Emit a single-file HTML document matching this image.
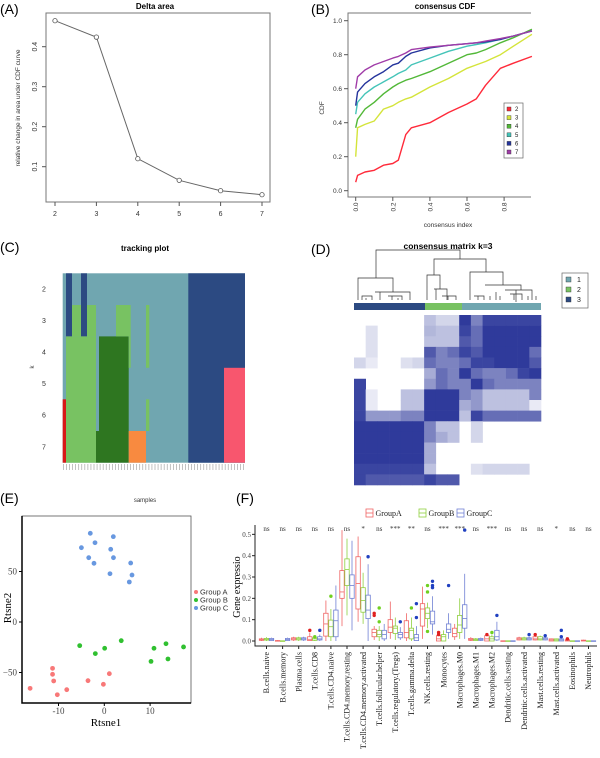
<!DOCTYPE html>
<html><head><meta charset="utf-8"><style>
html,body{margin:0;padding:0;background:#fff;}
svg{display:block;font-family:"Liberation Sans",sans-serif;}
.serif{font-family:"Liberation Serif",serif;}
</style></head><body>
<svg id="fig" width="600" height="758" viewBox="0 0 600 758" xmlns="http://www.w3.org/2000/svg">
<text x="0" y="14" font-size="14">(A)</text>
<text x="311" y="14" font-size="14">(B)</text>
<text x="0" y="252" font-size="14">(C)</text>
<text x="311" y="254" font-size="14">(D)</text>
<text x="0" y="503" font-size="14">(E)</text>
<text x="236" y="503" font-size="14">(F)</text>
<g id="gA"></g>
<g id="gB"></g>
<g id="gC"></g>
<g id="gD"></g>
<g id="gE"></g>
<g id="gF"></g>
</svg>
<script>
// ---------- data ----------
const deltaK = [2,3,4,5,6,7];
const deltaVals = [0.465,0.424,0.12,0.066,0.04,0.03];
const deltaYTicks = [0.1,0.2,0.3,0.4];

const cdfX = [0,0.01,0.05,0.1,0.15,0.2,0.23,0.27,0.3,0.4,0.5,0.6,0.65,0.7,0.78,0.85,0.95];
const cdfK2 = [0.05,0.09,0.11,0.12,0.15,0.16,0.18,0.33,0.37,0.40,0.46,0.51,0.54,0.62,0.72,0.75,0.79];
const cdfK3 = [0.2,0.37,0.39,0.41,0.48,0.50,0.52,0.54,0.55,0.61,0.66,0.72,0.74,0.76,0.80,0.85,0.92];
const cdfK4 = [0.37,0.42,0.48,0.52,0.57,0.61,0.63,0.65,0.66,0.70,0.75,0.80,0.81,0.83,0.87,0.90,0.95];
const cdfK5 = [0.45,0.52,0.57,0.61,0.64,0.67,0.69,0.71,0.74,0.78,0.82,0.85,0.86,0.87,0.89,0.91,0.94];
const cdfK6 = [0.50,0.58,0.63,0.67,0.70,0.74,0.75,0.79,0.81,0.84,0.855,0.865,0.87,0.875,0.89,0.91,0.94];
const cdfK7 = [0.60,0.67,0.71,0.74,0.76,0.78,0.79,0.81,0.83,0.845,0.855,0.865,0.87,0.88,0.895,0.91,0.94];
const cdfLabels = ['2','3','4','5','6','7'];
const cdfXTicks = [0,0.2,0.4,0.6,0.8];
const cdfYTicks = [0,0.2,0.4,0.6,0.8,1.0];

const trackRows = ['2','3','4','5','6','7'];

const cmCols = 16;
const cmRow0 = [0,0,0,0,0,0,.3,.2,.2,.95,.6,.9,.9,.9,.9,.9];
const cmRow1 = [0,.15,0,0,0,0,.35,.3,.3,.9,.7,.95,.95,.95,.95,.95];
const cmRow2 = [0,.15,0,0,0,0,.3,.3,.3,.8,.7,.95,.95,.95,.95,.95];
const cmRow3 = [0,.15,0,0,0,0,.8,.6,.7,.9,.8,.95,.95,.95,.95,.7];
const cmRow4 = [.2,.1,0,0,.15,.2,.7,.6,.6,.7,.9,.9,.95,.95,.95,.8];
const cmRow5 = [0,0,0,0,0,0,.4,.7,.6,.95,.7,.6,.6,.7,.9,.95];
const cmRow6 = [.9,0,0,0,0,0,.5,.7,.6,.6,.95,.7,.6,.6,.6,.6];
const cmRow7 = [.9,.1,0,0,.3,.3,.95,.95,.95,.6,.5,.3,.3,.3,.3,.6];
const cmRow8 = [.9,.1,0,0,.3,.3,.95,.95,.95,.4,.5,.3,.3,.3,.3,.1];
const cmRow9 = [.9,.5,.5,.5,.6,.6,.95,.95,.95,.3,.9,.7,.7,.7,.7,.7];
const cmRow10 = [.95,.95,.95,.95,.95,.95,.6,.3,.3,0,.2,0,0,0,0,0];
const cmRow11 = [.95,.95,.95,.95,.95,.95,.6,.4,.3,0,.2,0,0,0,0,0];
const cmRow12 = [.95,.95,.95,.95,.95,.95,.4,0,0,0,0,0,0,0,0,0];
const cmRow13 = [.95,.95,.95,.95,.95,.95,.4,0,0,0,0,0,0,0,0,0];
const cmRow14 = [.9,.9,.9,.9,.9,.9,.3,0,0,0,.15,.2,.2,.2,.2,0];
const cmRow15 = [.9,.8,.8,.8,.8,.8,.9,.8,.8,0,0,0,0,0,0,0];
const cmLegend = ['1','2','3'];

const tsneAx = [-11.3,-11.3,-11.05,-16.2,-10.26,-8.2,-3.56,-0.2,1.1];
const tsneAy = [-45.9,-51.8,-58.4,-65.7,-72,-67,-58.1,-61.7,-51.2];
const tsneBx = [-5.37,-1.96,0.08,3.7,10.85,13.47,17.3,10.2,13.9];
const tsneBy = [-23.4,-31.3,-26,-18.5,-26,-21.5,-24.7,-39,-36.6];
const tsneCx = [-3.06,1.97,-2.03,-5.0,1.4,-3.4,2.0,-2.25,5.76,1.24,6.05,5.46];
const tsneCy = [87.8,84.5,78.5,73.6,72,63.7,63.7,58.1,58.4,47.8,46.5,39.6];
const tsneXTicks = [-10,0,10];
const tsneYTicks = [-50,0,50];
const tsneGroups = ['Group A','Group B','Group C'];

const cells = ['B.cells.naive','B.cells.memory','Plasma.cells','T.cells.CD8','T.cells.CD4.naive','T.cells.CD4.memory.resting','T.cells.CD4.memory.activated','T.cells.follicular.helper','T.cells.regulatory.(Tregs)','T.cells.gamma.delta','NK.cells.resting','Monocytes','Macrophages.M0','Macrophages.M1','Macrophages.M2','Dendritic.cells.resting','Dendritic.cells.activated','Mast.cells.resting','Mast.cells.activated','Eosinophils','Neutrophils'];
const signif = ['ns','ns','ns','ns','ns','ns','*','ns','***','**','ns','***','***','ns','***','ns','ns','ns','*','ns','ns'];
const loA  = [0,0,0,0,0,.07,.09,.005,.01,0,.01,0,.005,0,0,0,.003,.003,0,0,0];
const q1A  = [.003,0,.005,.002,.023,.2,.15,.02,.04,.015,.07,0,.02,.003,0,0,.005,.005,0,0,0];
const medA = [.007,.001,.01,.008,.08,.23,.27,.04,.065,.04,.15,.01,.035,.007,.01,0,.01,.01,.005,.003,.002];
const q3A  = [.01,.002,.015,.02,.13,.33,.395,.055,.1,.095,.175,.025,.06,.012,.025,.001,.015,.02,.01,.006,.004];
const hiA  = [.015,.004,.02,.04,.19,.52,.49,.07,.185,.13,.255,.03,.08,.018,.03,.002,.02,.03,.012,.01,.006];
const loB  = [0,0,0,0,0,.12,.08,0,.005,0,.06,0,.01,0,0,0,.003,.003,0,0,0];
const q1B  = [.004,0,.005,.003,.02,.26,.135,.02,.035,.01,.105,0,.04,.002,0,0,.005,.005,0,0,0];
const medB = [.008,0,.01,.01,.067,.335,.19,.03,.06,.05,.13,.02,.075,.006,.01,0,.01,.01,.005,0,0];
const q3B  = [.012,.001,.015,.015,.098,.385,.25,.05,.07,.06,.155,.03,.12,.01,.02,.001,.015,.02,.01,.001,.001];
const hiB  = [.018,.002,.02,.02,.15,.48,.32,.07,.11,.11,.18,.05,.2,.014,.03,.002,.02,.025,.012,.002,.002];
const loC  = [0,0,0,0,0,.05,0,0,.005,0,.03,.01,.01,0,0,0,.003,.003,0,0,0];
const q1C  = [.002,.002,.005,.005,.02,.2,.105,.01,.015,.002,.08,.04,.06,.003,.005,0,.005,.005,0,0,0];
const medC = [.007,.007,.01,.01,.095,.26,.145,.03,.03,.015,.09,.055,.105,.007,.02,0,.01,.01,.005,0,0];
const q3C  = [.012,.012,.015,.02,.145,.31,.215,.05,.04,.03,.14,.08,.17,.012,.05,.001,.015,.015,.01,.001,.001];
const hiC  = [.016,.016,.02,.03,.26,.47,.36,.08,.065,.07,.21,.13,.315,.016,.09,.002,.02,.02,.012,.002,.002];
const outCat = [3,7,7,11,11,14,17,19,3,4,7,7,9,10,10,10,14,3,6,8,9,9,10,10,10,11,12,14,16,17,18,18];
const outGrp = [0,0,0,0,0,0,0,0,1,1,1,1,1,1,1,1,1,2,2,2,2,2,2,2,2,2,2,2,2,2,2,2];
const outVal = [.05,.12,.13,.03,.04,.03,.03,.01,.02,.21,.09,.155,.155,.045,.23,.26,.04,.05,.395,.09,.11,.175,.25,.26,.28,.26,.52,.12,.03,.025,.02,.05];
const fYTicks = [0,0.1,0.2,0.3,0.4,0.5];
const fGroups = ['GroupA','GroupB','GroupC'];

// ---------- helpers ----------
const NS='http://www.w3.org/2000/svg';
function mk(parent, tag, attrs, txt){const e=document.createElementNS(NS,tag);for(const k in attrs)e.setAttribute(k,attrs[k]);if(txt!==undefined)e.textContent=txt;parent.appendChild(e);return e;}

// ---------- Panel A ----------
(function(){
const g=document.getElementById('gA');
const xA=k=>55+(k-2)*41.4, yA=v=>166.7-(v-0.1)*400;
let e=mk(g,'rect',{x:46,y:13,width:224,height:189,fill:'none',stroke:'#777','stroke-width':1});


e=mk(g,'text',{x:155,y:9,'font-size':8,'font-weight':'bold','text-anchor':'middle'},'Delta area');


deltaK.forEach(k=>{mk(g,'line',{x1:xA(k),x2:xA(k),y1:202,y2:206,stroke:'#555'});
 e=mk(g,'text',{x:xA(k),y:216,'font-size':7,'text-anchor':'middle',fill:'#333'},k);
 
 });
deltaYTicks.forEach(v=>{mk(g,'line',{x1:42,x2:46,y1:yA(v),y2:yA(v),stroke:'#555'});
 e=mk(g,'text',{x:0,y:0,'font-size':7,'text-anchor':'middle',fill:'#333',transform:`translate(37,${yA(v)}) rotate(-90)`},v.toFixed(1));
 
 });
e=mk(g,'text',{x:0,y:0,'font-size':6.5,'text-anchor':'middle',fill:'#333',transform:'translate(20,108) rotate(-90)'},'relative change in area under CDF curve');


e=mk(g,'polyline',{points:deltaK.map((k,i)=>xA(k)+','+yA(deltaVals[i])).join(' '),fill:'none',stroke:'#666','stroke-width':1});


deltaK.forEach((k,i)=>{e=mk(g,'circle',{cx:xA(k),cy:yA(deltaVals[i]),r:2.2,fill:'#fff',stroke:'#555','stroke-width':0.8});
 
 });
})();

// ---------- Panel B ----------
(function(){
const g=document.getElementById('gB');
const xB=v=>355.7+v*185.5, yB=v=>190.7-v*170;
let e=mk(g,'path',{d:'M531,13 H348 V197 H531',fill:'none',stroke:'#777','stroke-width':1});


e=mk(g,'text',{x:445,y:9,'font-size':8,'font-weight':'bold','text-anchor':'middle'},'consensus CDF');


cdfXTicks.forEach(v=>{mk(g,'line',{x1:xB(v),x2:xB(v),y1:197,y2:201,stroke:'#555'});
 e=mk(g,'text',{x:0,y:0,'font-size':6.5,'text-anchor':'middle',fill:'#333',transform:`translate(${xB(v)+2.5},207) rotate(-90)`},v.toFixed(1));
 
 });
cdfYTicks.forEach(v=>{mk(g,'line',{x1:344,x2:348,y1:yB(v),y2:yB(v),stroke:'#555'});
 e=mk(g,'text',{x:342,y:yB(v)+2.5,'font-size':6.5,'text-anchor':'end',fill:'#333'},v.toFixed(1));
 
 });
e=mk(g,'text',{x:448,y:227,'font-size':6.5,'text-anchor':'middle',fill:'#333'},'consensus index');


e=mk(g,'text',{x:0,y:0,'font-size':6.5,'text-anchor':'middle',fill:'#333',transform:'translate(324,108) rotate(-90)'},'CDF');


const series=[cdfK2,cdfK3,cdfK4,cdfK5,cdfK6,cdfK7];
const cols=['#ff2a3a','#d4e43a','#52b838','#44c4b8','#24349c','#a03ca8'];
series.forEach((s,i)=>{e=mk(g,'polyline',{points:cdfX.map((x,j)=>xB(x)+','+yB(s[j])).join(' '),fill:'none',stroke:cols[i],'stroke-width':1.4,'stroke-linejoin':'round'});
 
 });
e=mk(g,'rect',{x:504,y:103,width:19,height:55,fill:'#fff',stroke:'#666','stroke-width':0.7});


cdfLabels.forEach((l,i)=>{const y=107+i*8.6;
 mk(g,'rect',{x:507,y:y,width:4,height:4,fill:cols[i],stroke:'#333','stroke-width':0.4});
 e=mk(g,'text',{x:515,y:y+4,'font-size':6,fill:'#222'},l);
 
 });
})();

// ---------- Panel C ----------
(function(){
const g=document.getElementById('gC');
const rowY=[273.3,305,336.4,367.8,399.3,431,462.7];
const T='#70a6b0',DB='#2c4a82',LG='#78c262',DG='#2e7620',OR='#f88a40',PK='#f8566e',RD='#d81818';
const blocks=[[62.7,245,0,6,T],[188.3,245,0,6,DB],[66,72,0,2,DB],[81,87,0,2,DB],[72,81,1,2,LG],[87,96,1,2,LG],
 [66,96,2,6,LG],[99,128.7,2,6,DG],[96,99,5,6,DG],[116,130.7,1,2,LG],[128.7,130.7,2,3,LG],[146,149.3,1,3,LG],[146,149.3,4,5,LG],
 [128.7,146,5,6,OR],[224,245,3,6,PK],[62.7,66,4,6,RD]];
let e;
blocks.forEach(b=>{e=mk(g,'rect',{x:b[0],y:rowY[b[2]],width:b[1]-b[0],height:rowY[b[3]]-rowY[b[2]],fill:b[4]});
 
 });
for(let i=0;i<60;i++){const x=63.5+i*3.05;mk(g,'line',{x1:x,x2:x,y1:464,y2:470,stroke:'#999','stroke-width':0.6});}
trackRows.forEach((r,i)=>{e=mk(g,'text',{x:44,y:(rowY[i]+rowY[i+1])/2+2.5,'font-size':7,'text-anchor':'middle',fill:'#333'},r);
 
 });
e=mk(g,'text',{x:145,y:251,'font-size':8,'font-weight':'bold','text-anchor':'middle'},'tracking plot');


e=mk(g,'text',{x:0,y:0,'font-size':6,'text-anchor':'middle',fill:'#333',transform:'translate(34,367) rotate(-90)'},'k');


e=mk(g,'text',{x:145,y:502,'font-size':6,'text-anchor':'middle',fill:'#333'},'samples');


})();

// ---------- Panel D ----------
(function(){
const g=document.getElementById('gD');
const x0=354,x1=541,y0=315,y1=485;
const rows=[cmRow0,cmRow1,cmRow2,cmRow3,cmRow4,cmRow5,cmRow6,cmRow7,cmRow8,cmRow9,cmRow10,cmRow11,cmRow12,cmRow13,cmRow14,cmRow15];
const cw=(x1-x0)/cmCols, ch=(y1-y0)/rows.length;
let e;
function col(v){const r=Math.round(255+(36-255)*v),gg=Math.round(255+(48-255)*v),b=Math.round(255+(150-255)*v);return `rgb(${r},${gg},${b})`;}
rows.forEach((row,i)=>row.forEach((v,j)=>{if(v<=0)return;
 e=mk(g,'rect',{x:x0+j*cw,y:y0+i*ch,width:cw+0.3,height:ch+0.3,fill:col(v)});
 
 }));
e=mk(g,'text',{x:448,y:249,'font-size':8.5,'font-weight':'bold','text-anchor':'middle'},'consensus matrix k=3');


const dp='M376,278 V250 H460 V259 M358,300 V278 H393 V292 M434,275 V259 H486 V272 M427,300 V275 H440 V289 M470,292 V272 H503 V285 '+
 'M434,289 H447 V300 M436,289 V300 M485,285 H521 V290 M496,292 V300 M516,290 V302 M470,300 V292 M362,300 V296 H372 V300 M375,292 H410 V300 M380,292 V300 M388,296 H402 V300 M392,296 V300 M398,298 V300 M366,298 V300 '+
 'M442,296 H456 V300 M448,296 V300 M474,296 H484 V300 M478,296 V300 M505,290 H532 V300 M510,294 H522 V300 M514,294 V300 M528,296 V300 M536,296 V300 M490,296 V300 M500,296 V300';
e=mk(g,'path',{d:dp,fill:'none',stroke:'#333','stroke-width':0.7});


[[354,425,'#2c4a82'],[425,462,'#78c262'],[462,541,'#70a6b0']].forEach(b=>{e=mk(g,'rect',{x:b[0],y:303,width:b[1]-b[0],height:7,fill:b[2]});
 
 });
e=mk(g,'rect',{x:562,y:273,width:26,height:35,fill:'#fff',stroke:'#666','stroke-width':0.7});


const lc=['#70a6b0','#78c262','#2c4a82'];
cmLegend.forEach((l,i)=>{mk(g,'rect',{x:566,y:277+i*10,width:5,height:5,fill:lc[i],stroke:'#333','stroke-width':0.4});
 e=mk(g,'text',{x:577,y:282+i*10,'font-size':7,fill:'#222'},l);
 
 });
})();

// ---------- Panel E ----------
(function(){
const g=document.getElementById('gE');
const xE=v=>104.3+v*4.58, yE=v=>622-v*1.01;
let e=mk(g,'rect',{x:22,y:516,width:169,height:187,fill:'#fff',stroke:'#555','stroke-width':0.8});


mk(g,'path',{d:'M22,516 V703 H191',fill:'none',stroke:'#000','stroke-width':1.5});
tsneXTicks.forEach(v=>{mk(g,'line',{x1:xE(v),x2:xE(v),y1:703,y2:706,stroke:'#000'});
 e=mk(g,'text',{x:xE(v),y:714,'font-size':9,'text-anchor':'middle',class:'serif',fill:'#444'},v);
 
 });
tsneYTicks.forEach(v=>{mk(g,'line',{x1:19,x2:22,y1:yE(v),y2:yE(v),stroke:'#000'});
 e=mk(g,'text',{x:17,y:yE(v)+3,'font-size':9,'text-anchor':'end',class:'serif',fill:'#444'},v===-50?'\u221250':v);
 
 });
e=mk(g,'text',{x:106,y:726,'font-size':11,'text-anchor':'middle',class:'serif'},'Rtsne1');


e=mk(g,'text',{x:0,y:0,'font-size':11,'text-anchor':'middle',class:'serif',transform:'translate(11,608) rotate(-90)'},'Rtsne2');


const cols=['#f87878','#30c030','#6898e0'];
[[tsneAx,tsneAy],[tsneBx,tsneBy],[tsneCx,tsneCy]].forEach((s,gi)=>s[0].forEach((x,i)=>{
 e=mk(g,'circle',{cx:xE(x),cy:yE(s[1][i]),r:2.4,fill:cols[gi]});
 
 }));
tsneGroups.forEach((l,i)=>{mk(g,'circle',{cx:196,cy:592+i*8,r:2,fill:cols[i]});
 e=mk(g,'text',{x:200,y:594.5+i*8,'font-size':7.5,fill:'#333'},l);
 
 });
})();

// ---------- Panel F ----------
(function(){
const g=document.getElementById('gF');
const xF=i=>266.5+i*16.1, yF=v=>641-v*213.3;
let e=mk(g,'path',{d:'M255,525 V646 H597',fill:'none',stroke:'#222','stroke-width':1});


fYTicks.forEach(v=>{mk(g,'line',{x1:252,x2:255,y1:yF(v),y2:yF(v),stroke:'#222'});
 e=mk(g,'text',{x:251,y:yF(v)+2.5,'font-size':7,'text-anchor':'end',class:'serif',fill:'#444'},v.toFixed(1));
 
 });
e=mk(g,'text',{x:0,y:0,'font-size':10,'text-anchor':'middle',class:'serif',transform:'translate(240,587) rotate(-90)'},'Gene expressio');


const lineC=['#f06464','#90d040','#7080d4'], dotC=['#e02020','#70d020','#2040c0'];
const groups=[[loA,q1A,medA,q3A,hiA],[loB,q1B,medB,q3B,hiB],[loC,q1C,medC,q3C,hiC]];
const off=[-5,0,5], bw=4.4;
cells.forEach((c,i)=>{const cx=xF(i);
 mk(g,'line',{x1:cx,x2:cx,y1:646,y2:649,stroke:'#222'});
 e=mk(g,'text',{x:0,y:0,'font-size':8,'text-anchor':'end',class:'serif',fill:'#222',transform:`translate(${cx+2.7},652) rotate(-90)`},c);
 
 
 e=mk(g,'text',{x:cx,y:531,'font-size':7,'text-anchor':'middle',class:'serif',fill:'#333'},signif[i]);
 
 
 groups.forEach((s,gi)=>{const x=cx+off[gi];
  e=mk(g,'line',{x1:x,x2:x,y1:yF(s[0][i]),y2:yF(s[4][i]),stroke:lineC[gi],'stroke-width':0.8});
  
  
  e=mk(g,'rect',{x:x-bw/2,y:yF(s[3][i]),width:bw,height:Math.max(0.6,yF(s[1][i])-yF(s[3][i])),fill:'#fff',stroke:lineC[gi],'stroke-width':0.8});
  
  
  e=mk(g,'line',{x1:x-bw/2,x2:x+bw/2,y1:yF(s[2][i]),y2:yF(s[2][i]),stroke:lineC[gi],'stroke-width':0.8});
  
  });
});
outCat.forEach((c,i)=>{e=mk(g,'circle',{cx:xF(c)+off[outGrp[i]],cy:yF(outVal[i]),r:1.7,fill:dotC[outGrp[i]]});
 
 });
const lx=[366,419,457];
fGroups.forEach((l,i)=>{mk(g,'rect',{x:lx[i],y:509,width:7,height:8,fill:'#fff',stroke:lineC[i],'stroke-width':0.8});
 mk(g,'line',{x1:lx[i],x2:lx[i]+7,y1:513,y2:513,stroke:lineC[i],'stroke-width':0.8});
 e=mk(g,'text',{x:lx[i]+9.5,y:516,'font-size':8,class:'serif',fill:'#222'},l);
 
 });
})();
</script>
</body></html>
